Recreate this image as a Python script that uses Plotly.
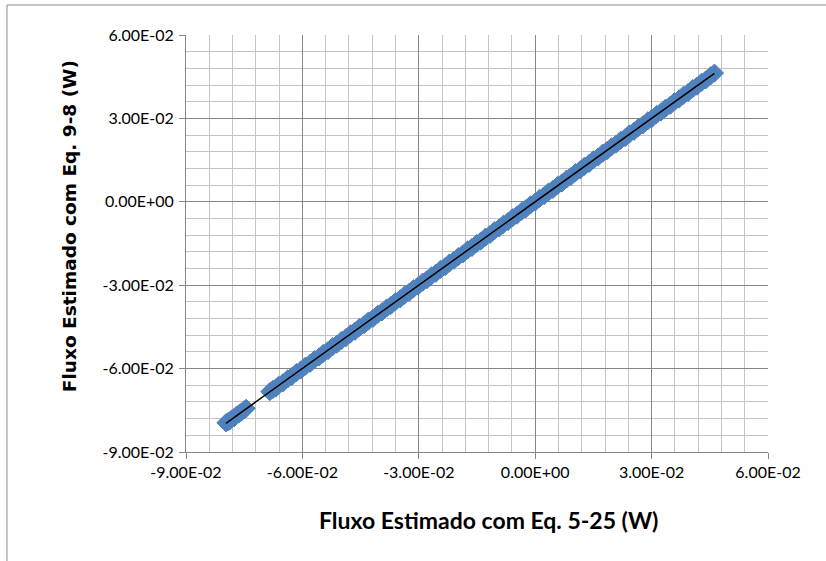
import numpy as np
import plotly.graph_objects as go

# Fluxo estimado: Eq. 5-25 (x) vs Eq. 9-8 (y)
flux_eq525 = [
    -0.0797, -0.0792, -0.0787, -0.0782, -0.0776, -0.0770, -0.0763, -0.0757, -0.0750, -0.0745,
    -0.0684, -0.0676, -0.0669, -0.0661, -0.0650, -0.0638, -0.0627, -0.0615, -0.0604, -0.0592,
    -0.0580, -0.0569, -0.0557, -0.0546, -0.0534, -0.0522, -0.0511, -0.0499, -0.0488, -0.0476,
    -0.0464, -0.0453, -0.0441, -0.0430, -0.0418, -0.0406, -0.0395, -0.0383, -0.0372, -0.0360,
    -0.0348, -0.0337, -0.0325, -0.0314, -0.0302, -0.0290, -0.0279, -0.0267, -0.0256, -0.0244,
    -0.0232, -0.0221, -0.0209, -0.0198, -0.0186, -0.0174, -0.0163, -0.0151, -0.0140, -0.0128,
    -0.0116, -0.0105, -0.0093, -0.0082, -0.0070, -0.0058, -0.0047, -0.0035, -0.0024, -0.0012,
    0.0000, 0.0011, 0.0023, 0.0034, 0.0046, 0.0058, 0.0069, 0.0081, 0.0092, 0.0104,
    0.0116, 0.0127, 0.0139, 0.0150, 0.0162, 0.0174, 0.0185, 0.0197, 0.0208, 0.0220,
    0.0232, 0.0243, 0.0255, 0.0266, 0.0278, 0.0290, 0.0301, 0.0313, 0.0324, 0.0336,
    0.0348, 0.0359, 0.0371, 0.0382, 0.0394, 0.0406, 0.0417, 0.0429, 0.0440, 0.0452, 0.0462,
]
flux_eq98 = [
    -0.0795, -0.0791, -0.0788, -0.0781, -0.0777, -0.0768, -0.0762, -0.0756, -0.0748, -0.0743,
    -0.0683, -0.0675, -0.0670, -0.0660, -0.0651, -0.0637, -0.0628, -0.0614, -0.0605, -0.0591,
    -0.0581, -0.0568, -0.0558, -0.0545, -0.0535, -0.0521, -0.0512, -0.0498, -0.0489, -0.0475,
    -0.0465, -0.0452, -0.0442, -0.0429, -0.0419, -0.0405, -0.0396, -0.0382, -0.0373, -0.0359,
    -0.0349, -0.0336, -0.0326, -0.0313, -0.0303, -0.0289, -0.0280, -0.0266, -0.0257, -0.0243,
    -0.0233, -0.0220, -0.0210, -0.0197, -0.0187, -0.0173, -0.0164, -0.0150, -0.0141, -0.0127,
    -0.0117, -0.0104, -0.0094, -0.0081, -0.0071, -0.0057, -0.0048, -0.0034, -0.0025, -0.0011,
    -0.0001, 0.0012, 0.0022, 0.0035, 0.0045, 0.0059, 0.0068, 0.0082, 0.0091, 0.0105,
    0.0115, 0.0128, 0.0138, 0.0151, 0.0161, 0.0175, 0.0184, 0.0198, 0.0207, 0.0221,
    0.0231, 0.0244, 0.0254, 0.0267, 0.0277, 0.0291, 0.0300, 0.0314, 0.0323, 0.0337,
    0.0347, 0.0360, 0.0370, 0.0383, 0.0393, 0.0407, 0.0416, 0.0430, 0.0439, 0.0453, 0.0463,
]

tick_vals = [-0.09, -0.06, -0.03, 0.0, 0.03, 0.06]
tick_text = ["-9.00E-02", "-6.00E-02", "-3.00E-02", "0.00E+00", "3.00E-02", "6.00E-02"]

# linear trendline (Excel style) from the same data
slope, icpt = np.polyfit(flux_eq525, flux_eq98, 1)
tx = np.array([min(flux_eq525), max(flux_eq525)])
ty = slope * tx + icpt

BLUE = "#4F81BD"
MAJOR = "#868686"
MINOR = "#C4C4C4"
TICKFONT = "Lato, Open Sans, sans-serif"

fig = go.Figure()
fig.add_trace(go.Scatter(
    x=flux_eq525, y=flux_eq98, mode="markers",
    marker=dict(symbol="diamond", size=14, color=BLUE, line=dict(color=BLUE, width=1)),
    showlegend=False,
))
fig.add_trace(go.Scatter(
    x=tx, y=ty, mode="lines",
    line=dict(color="black", width=1.5),
    showlegend=False,
))

axis_common = dict(
    tickmode="array",
    tickvals=tick_vals,
    ticktext=tick_text,
    range=[-0.09, 0.06],
    showgrid=True,
    gridcolor=MAJOR,
    gridwidth=1,
    zeroline=False,
    showline=True,
    linecolor=MAJOR,
    linewidth=1,
    ticks="outside",
    ticklen=6,
    tickcolor=MAJOR,
    tickfont=dict(family=TICKFONT, size=16, color="black"),
    minor=dict(dtick=0.006, tick0=-0.09, showgrid=True, gridcolor=MINOR, gridwidth=1, ticks=""),
)

fig.update_xaxes(**axis_common, ticklabelstandoff=0)
fig.update_yaxes(**axis_common, ticklabelstandoff=2)

fig.update_layout(
    width=826,
    height=561,
    margin=dict(l=186, r=58, t=35, b=109),
    paper_bgcolor="white",
    plot_bgcolor="white",
    font=dict(family=TICKFONT, color="black"),
    annotations=[
        dict(text="<b>Fluxo Estimado com Eq. 5-25 (W)</b>", xref="paper", yref="paper",
             x=0.519, y=-0.163, xanchor="center", yanchor="middle", showarrow=False,
             font=dict(size=23, family=TICKFONT)),
        dict(text="<b>Fluxo Estimado com Eq. 9-8 (W)</b>", xref="paper", yref="paper",
             x=-0.199, y=0.542, xanchor="center", yanchor="middle", showarrow=False,
             textangle=-90, font=dict(size=18.5, family="DejaVu Sans")),
    ],
    shapes=[
        dict(type="rect", xref="paper", yref="paper", x0=-0.3076, y0=-0.4, x1=1.2, y1=1.072,
             line=dict(color="#8C8C8C", width=1), layer="below"),
    ],
)

fig.write_html("out.html", config={"displayModeBar": False},
               post_script="document.body.style.margin='0';")
